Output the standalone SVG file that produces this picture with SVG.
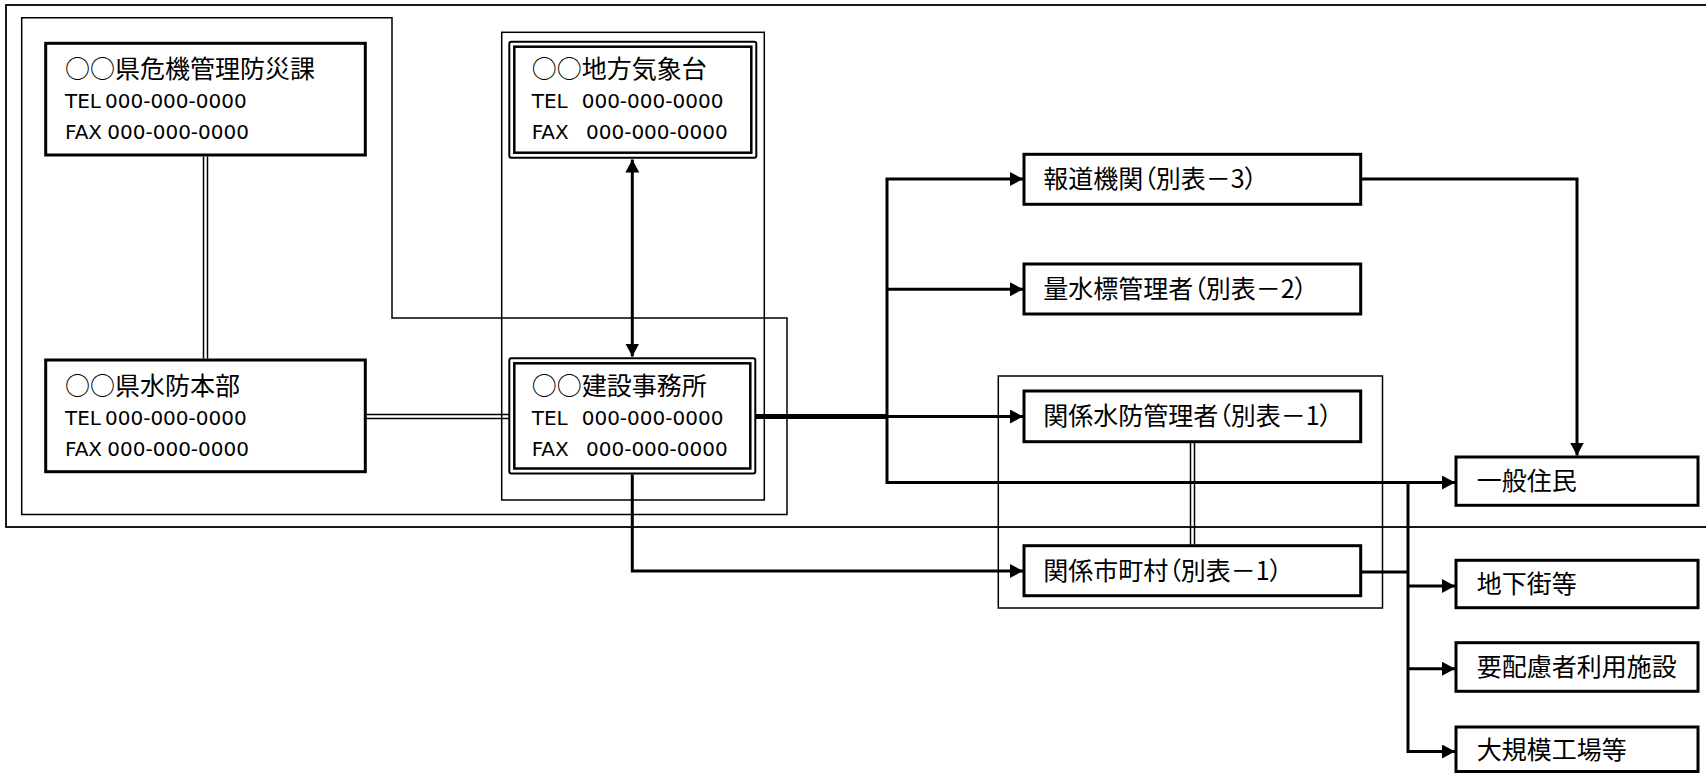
<svg xmlns="http://www.w3.org/2000/svg" width="1706" height="773" viewBox="0 0 1706 773">
<style>
.frame{fill:none;stroke:#000;stroke-width:1.5}
.box{fill:#fff;stroke:#000;stroke-width:3}
.dbo{fill:#fff;stroke:#000;stroke-width:2}
.dbi{fill:none;stroke:#000;stroke-width:2.5}
.ttl{font-family:"Noto Sans CJK JP","Noto Sans CJK SC",sans-serif;font-size:25px;fill:#000}
.tel{font-family:"DejaVu Sans",sans-serif;font-size:20px;fill:#000}
.lbl{font-family:"Noto Sans CJK JP","Noto Sans CJK SC",sans-serif;font-size:25px;fill:#000}
.p{font-feature-settings:"palt"}
.ln{fill:none;stroke:#000;stroke-width:3}
.thin{fill:none;stroke:#000;stroke-width:1.5}
.arr{fill:none;stroke:#000;stroke-width:3;marker-end:url(#ah)}
</style>
<defs>
<marker id="ah" markerUnits="userSpaceOnUse" markerWidth="14" markerHeight="15" refX="13" refY="7" orient="auto-start-reverse"><path d="M0,0 L13,7 L0,14 Z" fill="#000"/></marker>
</defs>
<rect width="1706" height="773" fill="#fff"/>
<g id="frames">
<rect x="6" y="5" width="1710" height="522" fill="none" stroke="#000" stroke-width="1.8"/>
<path class="frame" d="M21.7,17.7 H392 V318 H787 V514.5 H21.7 Z"/>
<rect class="frame" x="501.7" y="32.3" width="262.6" height="467.7"/>
<rect class="frame" x="998.3" y="376" width="384.2" height="232"/>
</g>
<g id="connectors">
<line class="thin" x1="203.5" y1="156.5" x2="203.5" y2="358.5"/>
<line class="thin" x1="207.5" y1="156.5" x2="207.5" y2="358.5"/>
<line class="thin" x1="366.8" y1="414.5" x2="512" y2="414.5"/>
<line class="thin" x1="366.8" y1="418.5" x2="512" y2="418.5"/>
<path class="arr" d="M632.3,159.5 V356.5" marker-start="url(#ah)"/>
<path d="M755,416.5 H887" fill="none" stroke="#000" stroke-width="5"/>
<path class="arr" d="M1023,179 H887 V482.5 H1455" marker-start="url(#ah)"/>
<path class="arr" d="M887,289.3 H1023"/>
<path class="arr" d="M887,416.5 H1023"/>
<path class="arr" d="M1362,179 H1577 V455.5"/>
<path class="arr" d="M632.3,474.5 V571 H1023"/>
<path class="ln" d="M1362,572 H1408"/>
<path class="arr" d="M1408,481 V751.5 H1455"/>
<path class="arr" d="M1408,586 H1455"/>
<path class="arr" d="M1408,668.7 H1455"/>
<line class="thin" x1="1190.5" y1="443" x2="1190.5" y2="544.5"/>
<line class="thin" x1="1194.5" y1="443" x2="1194.5" y2="544.5"/>
</g>
<g id="n-kiki">
<rect class="box" x="45.7" y="43.3" width="319.6" height="111.7"/>
<text class="ttl" x="65" y="78">○○県危機管理防災課</text>
<text class="tel" x="65" y="108">TEL <tspan x="105">000-000-0000</tspan></text>
<text class="tel" x="65" y="139">FAX <tspan x="107.3">000-000-0000</tspan></text>
</g>
<g id="n-suibou">
<rect class="box" x="45.7" y="360" width="319.6" height="111.7"/>
<text class="ttl" x="65" y="395">○○県水防本部</text>
<text class="tel" x="65" y="425">TEL <tspan x="105">000-000-0000</tspan></text>
<text class="tel" x="65" y="455.7">FAX <tspan x="107.3">000-000-0000</tspan></text>
</g>
<g id="n-kishou">
<rect class="dbo" x="509.3" y="41.7" width="247" height="116" rx="2"/>
<rect class="dbi" x="514.3" y="46.7" width="237" height="106"/>
<text class="ttl" x="531.7" y="78">○○地方気象台</text>
<text class="tel" x="531.7" y="108">TEL <tspan x="581.7">000-000-0000</tspan></text>
<text class="tel" x="531.7" y="139">FAX <tspan x="586">000-000-0000</tspan></text>
</g>
<g id="n-kensetsu">
<rect class="dbo" x="509.3" y="358.3" width="246" height="115.2" rx="2"/>
<rect class="dbi" x="514.3" y="363.3" width="236" height="105.2"/>
<text class="ttl" x="531.7" y="395">○○建設事務所</text>
<text class="tel" x="531.7" y="425">TEL <tspan x="581.7">000-000-0000</tspan></text>
<text class="tel" x="531.7" y="455.7">FAX <tspan x="586">000-000-0000</tspan></text>
</g>
<g id="n-houdou">
<rect class="box" x="1024" y="154.3" width="336.7" height="50"/>
<text class="lbl" x="1043.3" y="188">報道機関<tspan class="p">（</tspan>別表－3<tspan class="p">）</tspan></text>
</g>
<g id="n-ryousuihyou">
<rect class="box" x="1024" y="264" width="336.7" height="50"/>
<text class="lbl" x="1043.3" y="298">量水標管理者<tspan class="p">（</tspan>別表－2<tspan class="p">）</tspan></text>
</g>
<g id="n-kankeisuibou">
<rect class="box" x="1024" y="391" width="336.7" height="50.7"/>
<text class="lbl" x="1043.3" y="425">関係水防管理者<tspan class="p">（</tspan>別表－1<tspan class="p">）</tspan></text>
</g>
<g id="n-shichouson">
<rect class="box" x="1024" y="545.7" width="336.7" height="50"/>
<text class="lbl" x="1043.3" y="579.7">関係市町村<tspan class="p">（</tspan>別表－1<tspan class="p">）</tspan></text>
</g>
<g id="n-jumin">
<rect class="box" x="1456" y="457" width="242" height="48.3"/>
<text class="lbl" x="1476.7" y="490">一般住民</text>
</g>
<g id="n-chikagai">
<rect class="box" x="1456" y="560.3" width="242" height="47.4"/>
<text class="lbl" x="1476.7" y="593">地下街等</text>
</g>
<g id="n-youhairyo">
<rect class="box" x="1456" y="642.7" width="242" height="48.6"/>
<text class="lbl" x="1476.7" y="675.5">要配慮者利用施設</text>
</g>
<g id="n-daikibo">
<rect class="box" x="1456" y="727" width="242" height="44.5"/>
<text class="lbl" x="1476.7" y="758.5">大規模工場等</text>
</g>
</svg>
